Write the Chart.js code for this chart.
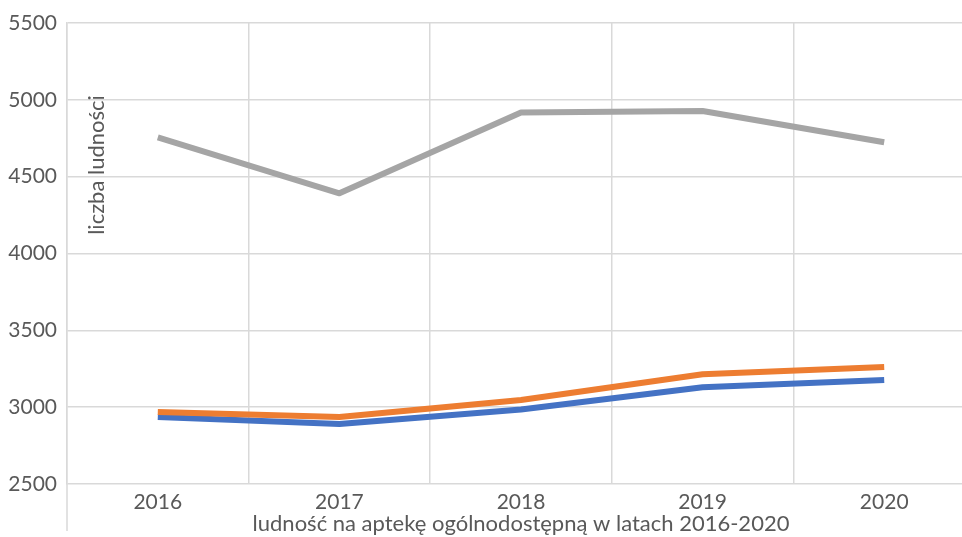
<!DOCTYPE html>
<html>
<head>
<meta charset="utf-8">
<script src="https://cdn.jsdelivr.net/npm/chart.js@4"></script>
<style>
html,body{margin:0;padding:0;overflow:hidden;background:#fff;width:962px;height:537px;}
#wrap{position:absolute;left:0;top:0;width:992px;height:537px;}
</style>
</head>
<body>
<div id="wrap"><canvas id="c" width="992" height="537"></canvas></div>
<script>
const categories = ['2016', '2017', '2018', '2019', '2020'];
const seriesBlue = [2936, 2890, 2985, 3130, 3177];
const seriesOrange = [2969, 2936, 3047, 3214, 3261];
const seriesGrey = [4755, 4392, 4918, 4927, 4724];
const yTicks = [2500, 3000, 3500, 4000, 4500, 5000, 5500];
const yTitle = 'liczba ludności';
const xTitle = 'ludność na aptekę ogólnodostępną w latach 2016-2020';

const FONT = 'Lato, "Liberation Sans", sans-serif';
const TXT = '#595959';
const GRID = '#D9D9D9';

const extras = {
  id: 'extras',
  afterDraw(chart) {
    const {ctx, chartArea} = chart;
    ctx.save();
    ctx.strokeStyle = GRID;
    ctx.lineWidth = 1.5;
    ctx.beginPath();
    ctx.moveTo(chartArea.left, chartArea.bottom);
    ctx.lineTo(chartArea.left, chartArea.bottom + 47);
    ctx.stroke();
    ctx.translate(chartArea.left + 30, chartArea.top + 142);
    ctx.rotate(-Math.PI / 2);
    ctx.fillStyle = TXT;
    ctx.font = '22px ' + FONT;
    ctx.textAlign = 'center';
    ctx.textBaseline = 'middle';
    ctx.fillText(yTitle, 0, 0);
    ctx.restore();
  }
};

const mk = (label, data, color) => ({
  label, data, borderColor: color, backgroundColor: color,
  borderWidth: 6, pointRadius: 0, tension: 0,
  borderCapStyle: 'butt', borderJoinStyle: 'round', fill: false
});

new Chart(document.getElementById('c'), {
  type: 'line',
  data: {
    labels: categories,
    datasets: [
      mk('grey', seriesGrey, '#A5A5A5'),
      mk('orange', seriesOrange, '#ED7D31'),
      mk('blue', seriesBlue, '#4472C4')
    ]
  },
  options: {
    responsive: false,
    animation: false,
    events: [],
    layout: { padding: { top: 23, right: 17, left: 0, bottom: 0 } },
    plugins: { legend: { display: false }, tooltip: { enabled: false } },
    scales: {
      x: {
        offset: true,
        grid: { offset: true, color: GRID, lineWidth: 1.5, drawTicks: false },
        border: { display: false },
        ticks: { color: TXT, font: { family: FONT, size: 21 }, padding: 6, maxRotation: 0 },
        title: { display: true, text: xTitle, color: TXT, font: { family: FONT, size: 22 }, padding: { top: 0, bottom: 0 } },
        afterFit(s) { s.height = 53; }
      },
      y: {
        min: 2500, max: 5500,
        afterBuildTicks(s) { s.ticks = yTicks.map(v => ({ value: v })); },
        grid: { color: GRID, lineWidth: 1.5, drawTicks: false },
        border: { display: true, color: GRID, width: 1.5 },
        ticks: { color: TXT, font: { family: FONT, size: 21 }, padding: 10, callback: v => String(v) },
        afterFit(s) { s.width = 67; }
      }
    }
  },
  plugins: [extras]
});
</script>
</body>
</html>
